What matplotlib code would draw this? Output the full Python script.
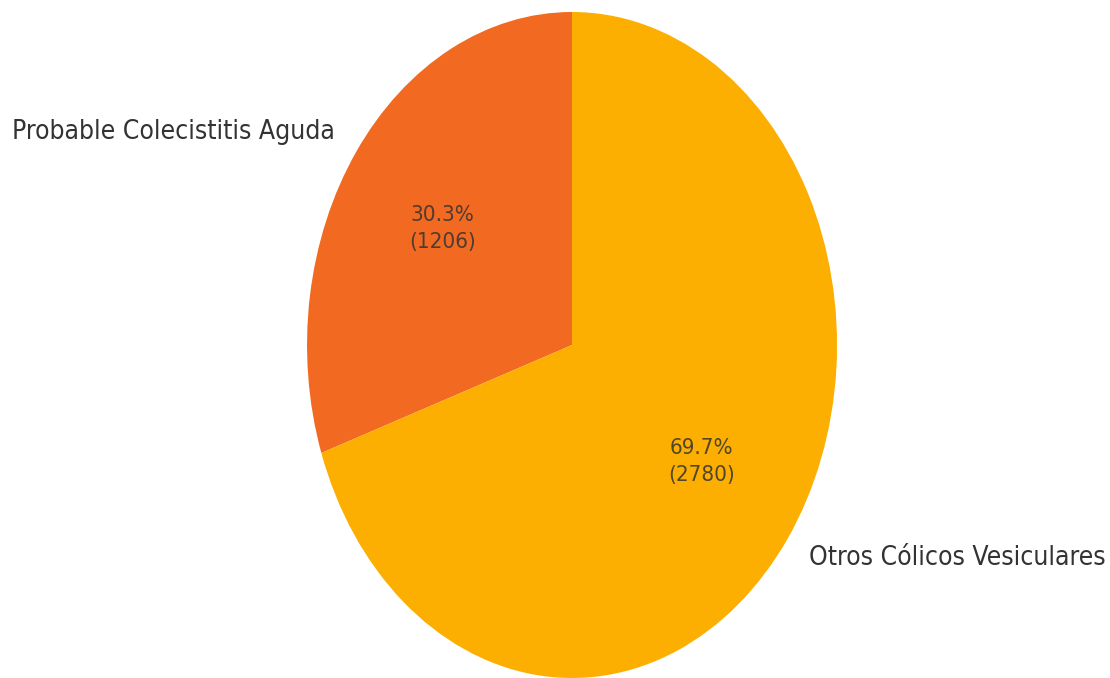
import matplotlib
matplotlib.use("Agg")
import matplotlib.pyplot as plt

# Case counts by diagnosis group
categories = ["Probable Colecistitis Aguda", "Otros Cólicos Vesiculares"]
counts = [1206, 2780]
colors = ["#F26A21", "#FCAF00"]

total = sum(counts)


def pct_label(p):
    n = int(round(p * total / 100.0))
    return f"{p:.1f}%\n({n})"


fig = plt.figure(figsize=(11.1, 6.78), dpi=100)
ax = fig.add_axes([0.2766, 0.0, 0.4775, 0.9823])

wedges, texts, autotexts = ax.pie(
    counts,
    labels=categories,
    colors=colors,
    startangle=90,
    autopct=pct_label,
    pctdistance=0.6,
    labeldistance=1.1,
    textprops=dict(color="#333333", family="DejaVu Sans", fontstretch="condensed"),
)
ax.set_aspect("auto")
ax.set_xlim(-1, 1)
ax.set_ylim(-1, 1)

for t in texts:
    t.set_fontsize(19)
for t in autotexts:
    t.set_fontsize(16)
    t.set_alpha(0.85)
    t.set_linespacing(1.45)

fig.savefig("out.png", dpi=100, facecolor="white")
